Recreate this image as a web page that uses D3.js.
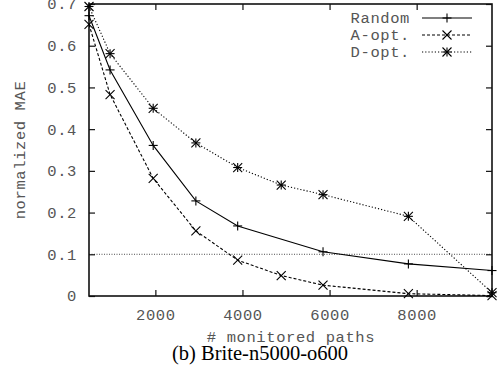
<!DOCTYPE html>
<html>
<head>
<meta charset="utf-8">
<script src="https://cdn.jsdelivr.net/npm/d3@7"></script>
<style>
  body { margin: 0; background: #fff; }
  svg text { font-family: "Liberation Mono", "DejaVu Sans Mono", monospace; fill: #555; letter-spacing: 0.6px; }
</style>
</head>
<body>
<svg id="chart" width="498" height="377"></svg>
<script>
// data
const randomX = [476, 960, 1950, 2930, 3890, 5850, 7810, 9730];
const randomY = [0.672, 0.542, 0.361, 0.228, 0.168, 0.106, 0.077, 0.061];
const aoptX = [476, 960, 1950, 2930, 3890, 4890, 5850, 7810, 9730];
const aoptY = [0.651, 0.483, 0.282, 0.156, 0.086, 0.049, 0.026, 0.0055, 0.001];
const doptX = [476, 960, 1950, 2930, 3890, 4890, 5850, 7810, 9730];
const doptY = [0.694, 0.581, 0.450, 0.367, 0.308, 0.266, 0.243, 0.191, 0.008];
const xTicks = [2000, 4000, 6000, 8000];
const yTicks = [0, 0.1, 0.2, 0.3, 0.4, 0.5, 0.6, 0.7];
const yTickLabels = ["0", "0.1", "0.2", "0.3", "0.4", "0.5", "0.6", "0.7"];
const thresholdY = 0.1;
const seriesNames = ["Random", "A-opt.", "D-opt."];

const margin = {top: 4, right: 6, bottom: 81, left: 89};
const width = 498, height = 377;
const w = width - margin.left - margin.right;
const h = height - margin.top - margin.bottom;
const fs = "15.5px";

const svg = d3.select("#chart");
const g = svg.append("g").attr("transform", `translate(${margin.left},${margin.top})`);

const x = d3.scaleLinear().domain([476, 9730]).range([0, w]);
const y = d3.scaleLinear().domain([0, 0.7]).range([h, 0]);

// threshold line
g.append("line")
  .attr("x1", 0).attr("x2", w)
  .attr("y1", y(thresholdY)).attr("y2", y(thresholdY))
  .attr("stroke", "#222").attr("stroke-width", 0.8)
  .attr("stroke-dasharray", "1,1.5");

// axes (ticks inward, mirrored)
const fmt = d => yTickLabels[yTicks.indexOf(d)];
g.append("g").attr("transform", `translate(0,${h})`)
  .call(d3.axisBottom(x).tickValues(xTicks).tickSize(-6).tickPadding(13).tickFormat(d3.format("d")))
  .call(a => a.select(".domain").remove())
  .selectAll("text").style("font-size", fs);
g.append("g")
  .call(d3.axisTop(x).tickValues(xTicks).tickSize(-6).tickFormat(""))
  .call(a => a.select(".domain").remove());
g.append("g")
  .call(d3.axisLeft(y).tickValues(yTicks).tickSize(-6).tickPadding(12).tickFormat(fmt))
  .call(a => a.select(".domain").remove())
  .selectAll("text").style("font-size", fs);
g.append("g").attr("transform", `translate(${w},0)`)
  .call(d3.axisRight(y).tickValues(yTicks).tickSize(-6).tickFormat(""))
  .call(a => a.select(".domain").remove());
g.selectAll(".tick line").attr("stroke", "#111").attr("stroke-width", 1.2);

// frame
g.append("rect").attr("width", w).attr("height", h)
  .attr("fill", "none").attr("stroke", "#111").attr("stroke-width", 1.6);

const series = [
  {name: seriesNames[0], xs: randomX, ys: randomY, dash: null, marker: "plus"},
  {name: seriesNames[1], xs: aoptX, ys: aoptY, dash: "3,2", marker: "cross"},
  {name: seriesNames[2], xs: doptX, ys: doptY, dash: "1.2,2", marker: "star"}
];

const line = d3.line().x(d => x(d[0])).y(d => y(d[1]));

function drawMarker(sel, type, cx, cy) {
  const s = 4.5;
  const m = sel.append("g").attr("transform", `translate(${cx},${cy})`)
    .attr("stroke", "#000").attr("stroke-width", 1.1);
  if (type === "plus" || type === "star") {
    m.append("line").attr("x1", -s).attr("x2", s).attr("y1", 0).attr("y2", 0);
    m.append("line").attr("x1", 0).attr("x2", 0).attr("y1", -s).attr("y2", s);
  }
  if (type === "cross" || type === "star") {
    m.append("line").attr("x1", -s).attr("x2", s).attr("y1", -s).attr("y2", s);
    m.append("line").attr("x1", -s).attr("x2", s).attr("y1", s).attr("y2", -s);
  }
}

series.forEach(sr => {
  const pts = sr.xs.map((v, i) => [v, sr.ys[i]]);
  g.append("path").datum(pts)
    .attr("fill", "none").attr("stroke", "#000").attr("stroke-width", 1.1)
    .attr("stroke-dasharray", sr.dash)
    .attr("d", line);
  pts.forEach(p => drawMarker(g, sr.marker, x(p[0]), y(p[1])));
});

// legend
const lg = svg.append("g");
series.forEach((sr, i) => {
  const ly = 18 + i * 17;
  lg.append("text").attr("x", 410).attr("y", ly + 5)
    .attr("text-anchor", "end").style("font-size", fs).text(sr.name);
  lg.append("line").attr("x1", 422).attr("x2", 472).attr("y1", ly).attr("y2", ly)
    .attr("stroke", "#000").attr("stroke-width", 1.1).attr("stroke-dasharray", sr.dash);
  drawMarker(lg, sr.marker, 447, ly);
});

// axis titles
svg.append("text")
  .attr("transform", `translate(25,${margin.top + h / 2}) rotate(-90)`)
  .attr("text-anchor", "middle").style("font-size", fs)
  .text("normalized MAE");
svg.append("text").attr("x", 291).attr("y", 342)
  .attr("text-anchor", "middle").style("font-size", fs)
  .text("# monitored paths");
svg.append("text").attr("x", 260).attr("y", 360)
  .attr("text-anchor", "middle")
  .style("font-family", "'Liberation Serif', 'Times New Roman', serif")
  .style("font-size", "20.5px").style("fill", "#000").style("letter-spacing", "0px")
  .text("(b) Brite-n5000-o600");
</script>
</body>
</html>
